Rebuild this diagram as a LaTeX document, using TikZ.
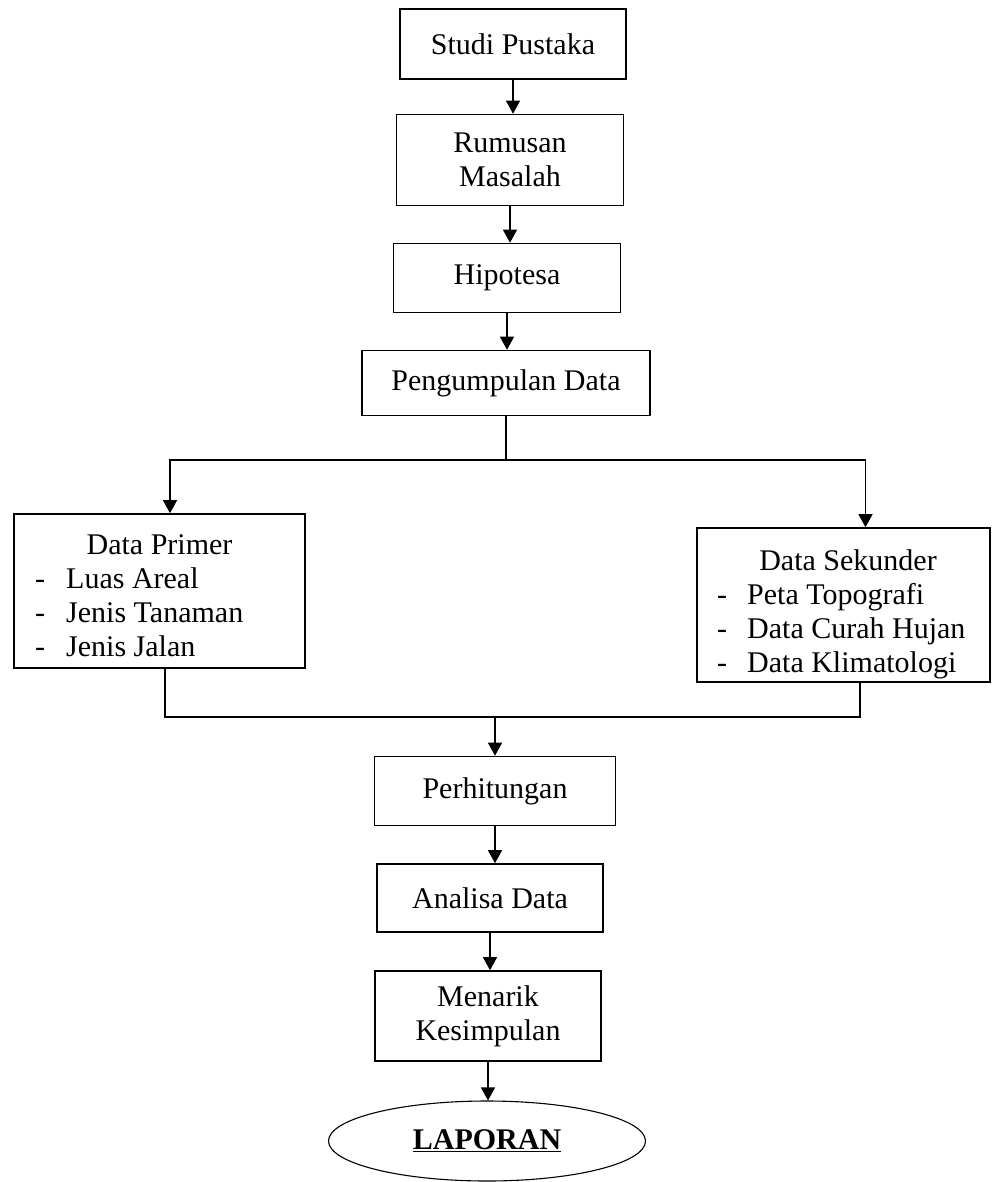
\documentclass[tikz,border=0pt]{standalone}
\usepackage{fontspec}
\setmainfont{Liberation Serif}
\usetikzlibrary{arrows.meta,shapes.geometric}
\begin{document}
\begin{tikzpicture}[x=1pt,y=-1pt,
  box/.style={draw, line width=1.6pt, inner sep=0pt, align=center,
    font=\fontsize{30}{34}\selectfont},
  txt/.style={inner sep=0pt, font=\fontsize{30}{34}\selectfont},
  conn/.style={line width=1.3pt},
  arr/.style={line width=1.3pt, -{Triangle[width=14pt,length=13pt]}}]
\useasboundingbox (0,0) rectangle (992,1182);
% simple boxes
\node[box, minimum width=226pt, minimum height=70pt] (studi) at (513,44) {Studi Pustaka};
\node[box, minimum width=227pt, minimum height=91pt] (rum) at (510,160) {Rumusan\\Masalah};
\node[box, minimum width=227pt, minimum height=69pt] (hip) at (507,278) {Hipotesa};
\node[box, minimum width=288pt, minimum height=65pt] (peng) at (506,383) {Pengumpulan Data};
\node[box, minimum width=241pt, minimum height=69pt] (perh) at (495,791) {Perhitungan};
\node[box, minimum width=226pt, minimum height=68pt] (anal) at (490,898) {Analisa Data};
\node[box, minimum width=226pt, minimum height=90pt] (men) at (488,1016) {Menarik\\Kesimpulan};
\node[draw, ellipse, line width=1.1pt, minimum width=317pt, minimum height=80pt, inner sep=0pt,
  font=\fontsize{30}{34}\selectfont\bfseries] (lap) at (487,1141) {\underline{LAPORAN}};
% data primer
\node[box, minimum width=291pt, minimum height=154pt] (primer) at (159.5,591) {};
\node[txt, anchor=base] (primT) at (159.5,554) {Data Primer};
\node[txt, anchor=base west] (prim1) at (35,588) {-\hspace{21pt}Luas Areal};
\node[txt, anchor=base west] (prim2) at (35,622) {-\hspace{21pt}Jenis Tanaman};
\node[txt, anchor=base west] (prim3) at (35,656) {-\hspace{21pt}Jenis Jalan};
% data sekunder
\node[box, minimum width=293pt, minimum height=154pt] (sek) at (843.5,605) {};
\node[txt, anchor=base] (sekT) at (848,570) {Data Sekunder};
\node[txt, anchor=base west] (sek1) at (717,604) {-\hspace{20pt}Peta Topografi};
\node[txt, anchor=base west] (sek2) at (717,638) {-\hspace{20pt}Data Curah Hujan};
\node[txt, anchor=base west] (sek3) at (717,672) {-\hspace{20pt}Data Klimatologi};
% connectors
\draw[arr] (studi.south) -- (studi.south |- rum.north);
\draw[arr] (rum.south) -- (rum.south |- hip.north);
\draw[arr] (hip.south) -- (hip.south |- peng.north);
\coordinate (split) at (506,460);
\draw[conn] (peng.south) -- (split);
\draw[arr] (split) -| ([xshift=10.5pt]primer.north);
\draw[arr] (split) -| ([xshift=22pt]sek.north);
\coordinate (merge) at (495,717);
\draw[conn] ([xshift=5.5pt]primer.south) |- (merge);
\draw[conn] ([xshift=16.5pt]sek.south) |- (merge);
\draw[arr] (merge) -- (perh.north);
\draw[arr] (perh.south) -- (perh.south |- anal.north);
\draw[arr] (anal.south) -- (anal.south |- men.north);
\draw[arr] (men.south) -- (men.south |- lap.north);
\end{tikzpicture}
\end{document}
